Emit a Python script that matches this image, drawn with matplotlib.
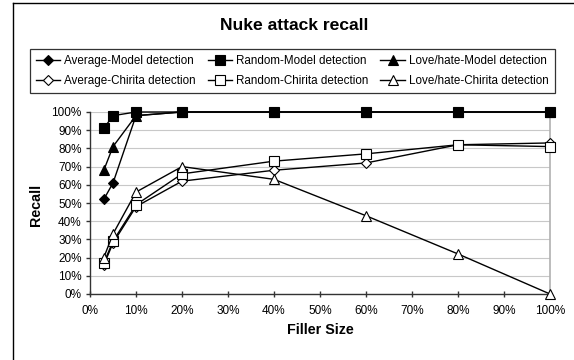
import matplotlib
matplotlib.use("Agg")
import matplotlib.pyplot as plt
from matplotlib.lines import Line2D
from matplotlib.ticker import FuncFormatter, MultipleLocator

plt.rcParams['font.family'] = ['Liberation Sans', 'DejaVu Sans']

filler = [3, 5, 10, 20, 40, 60, 80, 100]
avg_model = [52, 61, 98, 100, 100, 100, 100, 100]
rand_model = [91, 98, 100, 100, 100, 100, 100, 100]
love_model = [68, 81, 98, 100, 100, 100, 100, 100]
avg_chirita = [16, 28, 48, 62, 68, 72, 82, 83]
rand_chirita = [17, 29, 49, 66, 73, 77, 82, 81]
love_chirita = [20, 33, 56, 70, 63, 43, 22, 0]

labels = ["Average-Model detection", "Random-Model detection", "Love/hate-Model detection",
          "Average-Chirita detection", "Random-Chirita detection", "Love/hate-Chirita detection"]

fig = plt.figure(figsize=(5.74, 3.6), dpi=100)
ax = fig.add_axes([90/574, 1-294/360, 460/574, 182/360])

series = [
    (avg_model, 'D', 'black', 5.5),
    (rand_model, 's', 'black', 7),
    (love_model, '^', 'black', 7),
    (avg_chirita, 'D', 'white', 5.5),
    (rand_chirita, 's', 'white', 7),
    (love_chirita, '^', 'white', 7),
]
handles = []
for (vals, m, fc, ms), lab in zip(series, labels):
    h, = ax.plot(filler, vals, color='black', lw=1.0, marker=m, markersize=ms,
                 markerfacecolor=fc, markeredgecolor='black', markeredgewidth=0.8,
                 clip_on=False, zorder=3, label=lab)
    handles.append(h)

ax.set_xlim(0, 100)
ax.set_ylim(0, 100)
ax.xaxis.set_major_locator(MultipleLocator(10))
ax.yaxis.set_major_locator(MultipleLocator(10))
fmt = FuncFormatter(lambda v, p: f"{int(round(v))}%")
ax.xaxis.set_major_formatter(fmt)
ax.yaxis.set_major_formatter(fmt)
ax.tick_params(axis='both', labelsize=8.5, length=3, width=1, color='#333333', pad=4)
ax.tick_params(axis='y', direction='out', pad=3)
ax.tick_params(axis='x', direction='inout', length=4, pad=6)
ax.grid(axis='y', color='#c8c8c8', lw=0.8, zorder=0)
ax.set_axisbelow(True)
ax.spines['top'].set_visible(False)
ax.spines['right'].set_color('#b0b0b0')
ax.spines['right'].set_linewidth(1.2)
ax.spines['left'].set_color('#333333')
ax.spines['bottom'].set_color('#333333')
ax.spines['left'].set_linewidth(1.0)
ax.spines['bottom'].set_linewidth(1.0)

fig.text(294/574, 1 - 26/360, "Nuke attack recall", ha='center', va='center',
         fontsize=12.6, fontweight='bold')
fig.text(320/574, 1 - 330/360, "Filler Size", ha='center', va='center',
         fontsize=10.3, fontweight='bold')
fig.text(36/574, 1 - 205/360, "Recall", ha='center', va='center', rotation=90,
         fontsize=10.3, fontweight='bold')

order = [0, 3, 1, 4, 2, 5]
leg = fig.legend([handles[i] for i in order], [labels[i] for i in order], ncol=3,
                 loc='upper left', bbox_to_anchor=(30/574, 1-49/360),
                 fontsize=8.4, frameon=True, fancybox=False,
                 edgecolor='black', handlelength=2.1, handletextpad=0.35,
                 columnspacing=1.0, borderpad=0.5, labelspacing=0.72, borderaxespad=0)
leg.get_frame().set_linewidth(0.9)

# outer chart border
fig.add_artist(Line2D([13/574, 13/574], [0, 1-3/360], color='black', lw=1.0, transform=fig.transFigure))
fig.add_artist(Line2D([13/574, 1], [1-3/360, 1-3/360], color='black', lw=1.0, transform=fig.transFigure))

fig.savefig("out.png", dpi=100)
